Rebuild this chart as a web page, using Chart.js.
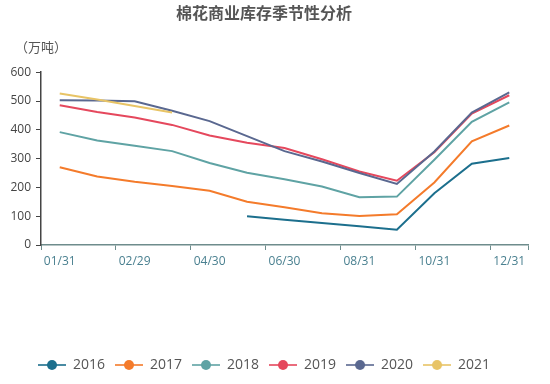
<!DOCTYPE html>
<html>
<head>
<meta charset="utf-8">
<script src="https://cdn.jsdelivr.net/npm/chart.js@4"></script>
<style>
  body { margin: 0; background: #fff; }
</style>
</head>
<body>
<canvas id="chart" width="550" height="384"></canvas>
<script>
const titleText = '棉花商业库存季节性分析';
const yName = '（万吨）';
const categories = ['01/31', '02/28', '02/29', '03/31', '04/30', '05/31', '06/30', '07/31', '08/31', '09/30', '10/31', '11/30', '12/31'];
const years = ['2016', '2017', '2018', '2019', '2020', '2021'];
const s2016 = [null, null, null, null, null, 100, 88, 76, 65, 53, 180, 282, 302];
const s2017 = [270, 238, 220, 205, 188, 150, 131, 110, 101, 107, 217, 360, 415];
const s2018 = [392, 363, 345, 326, 285, 251, 228, 203, 166, 168, 296, 428, 495];
const s2019 = [485, 462, 443, 417, 380, 355, 337, 298, 255, 223, 322, 456, 520];
const s2020 = [503, 502, 499, 466, 430, 378, 326, 290, 250, 212, 325, 460, 530];
const s2021 = [526, 505, 483, 460, null, null, null, null, null, null, null, null, null];
const colors = ['#1c6f8d', '#f47b2b', '#5fa3a4', '#e5485d', '#5a6890', '#e8c466'];

const family = '"Open Sans", "Noto Sans CJK SC", sans-serif';
Chart.defaults.font.family = family;

function makeIcon(color) {
    const c = document.createElement('canvas');
    c.width = 28;
    c.height = 12;
    const g = c.getContext('2d');
    g.strokeStyle = color;
    g.lineWidth = 1.6;
    g.beginPath();
    g.moveTo(0, 6);
    g.lineTo(28, 6);
    g.stroke();
    g.fillStyle = color;
    g.beginPath();
    g.arc(14, 6, 5, 0, Math.PI * 2);
    g.fill();
    return c;
}
const icons = colors.map(makeIcon);

// y axis name above the axis
const axisName = {
    id: 'axisName',
    afterDraw(chart) {
        const ctx = chart.ctx;
        const y = chart.scales.y;
        ctx.save();
        ctx.font = '13px ' + family;
        ctx.fillStyle = '#555';
        ctx.textAlign = 'center';
        ctx.textBaseline = 'middle';
        ctx.fillText(yName, y.right, 48);
        ctx.restore();
    }
};

const series = [s2016, s2017, s2018, s2019, s2020, s2021];

new Chart(document.getElementById('chart'), {
    type: 'line',
    data: {
        labels: categories,
        datasets: series.map((d, i) => ({
            label: years[i],
            data: d,
            borderColor: colors[i],
            backgroundColor: colors[i],
            borderWidth: 2,
            pointRadius: 0,
            tension: 0,
            order: series.length - i
        }))
    },
    options: {
        responsive: false,
        animation: false,
        devicePixelRatio: 1,
        layout: { padding: { left: 0, right: 22, top: 0, bottom: 2 } },
        plugins: {
            title: {
                display: true,
                text: titleText,
                color: '#555',
                font: { size: 16, weight: 'bold' },
                padding: { top: 5, bottom: 48 }
            },
            legend: {
                position: 'bottom',
                labels: {
                    usePointStyle: true,
                    pointStyleWidth: 28,
                    boxHeight: 14,
                    padding: 10,
                    color: '#555',
                    font: { size: 14 },
                    generateLabels: chart => chart.data.datasets.map((ds, i) => ({
                        text: ds.label,
                        pointStyle: icons[i],
                        fillStyle: ds.borderColor,
                        strokeStyle: ds.borderColor,
                        lineWidth: 0,
                        fontColor: '#555',
                        hidden: !chart.isDatasetVisible(i),
                        datasetIndex: i
                    }))
                }
            },
            tooltip: { enabled: false }
        },
        scales: {
            x: {
                offset: true,
                afterFit: s => { s.height = 103; },
                border: { color: '#6e8c8c', width: 1.5 },
                grid: {
                    offset: true,
                    drawOnChartArea: false,
                    tickLength: 5,
                    tickColor: c => (c.index === undefined || c.index % 2 === 0) ? '#6e8c8c' : 'rgba(0,0,0,0)'
                },
                ticks: {
                    autoSkip: false,
                    maxRotation: 0,
                    padding: 4,
                    color: '#4a8090',
                    font: { size: 12 },
                    callback: (v, i) => i % 2 === 0 ? categories[i] : ''
                }
            },
            y: {
                min: 0,
                max: 600,
                afterFit: s => { s.width = 41; },
                border: { color: '#444', width: 1.5 },
                grid: { drawOnChartArea: false, tickLength: 5, tickColor: '#444' },
                ticks: { stepSize: 100, padding: 5, color: '#444', font: { size: 12 } }
            }
        }
    },
    plugins: [axisName]
});
</script>
</body>
</html>
